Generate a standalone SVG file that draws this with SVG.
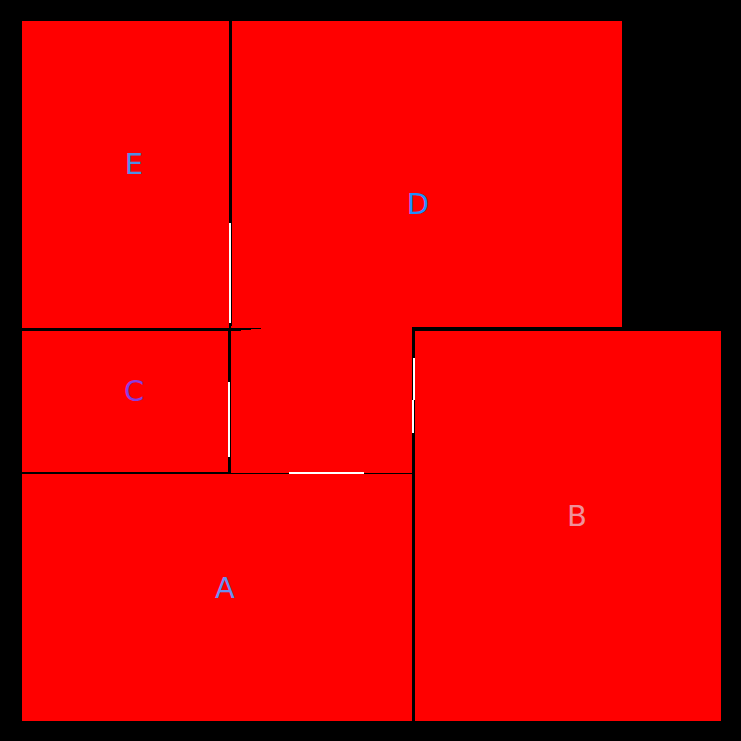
<svg xmlns="http://www.w3.org/2000/svg" width="741" height="741" viewBox="0 0 741 741">
<style>
.box{fill:#ff0000}
.lbl{font-family:"DejaVu Sans",sans-serif;font-size:29px;text-anchor:middle;dominant-baseline:central}
.wl{stroke:#ffffff;stroke-width:2;fill:none}
.bl{stroke:#000000;fill:none}
</style>
<rect x="0" y="0" width="741" height="741" fill="#000000"/>
<g id="middle"><rect class="box" x="231" y="326" width="181" height="147"/></g>
<g id="E"><rect class="box" x="22" y="21" width="207" height="307"/><text class="lbl" x="134" y="164" fill="#4f8fe6">E</text></g>
<g id="D"><rect class="box" x="232" y="21" width="390" height="306"/><text class="lbl" x="418" y="204" fill="#1e90ff">D</text></g>
<g id="C"><rect class="box" x="22" y="331" width="206" height="141"/><text class="lbl" x="134" y="391" fill="#8a3ce0">C</text></g>
<g id="A"><rect class="box" x="22" y="474" width="390" height="247"/><text class="lbl" x="225" y="588" fill="#6a8ff0">A</text></g>
<g id="B"><rect class="box" x="415" y="331" width="306" height="390"/><text class="lbl" x="577" y="516" fill="#f0909a">B</text></g>
<g id="connectors">
<line class="bl" x1="230" y1="329.5" x2="241" y2="329.5" stroke-width="3"/>
<line class="bl" x1="241" y1="329" x2="251" y2="329" stroke-width="2"/>
<line class="bl" x1="251" y1="328.5" x2="261" y2="328.5" stroke-width="1"/>
<line class="wl" x1="230" y1="223" x2="230" y2="323"/>
<line class="wl" x1="229" y1="382" x2="229" y2="457"/>
<line class="wl" x1="289" y1="473" x2="364" y2="473"/>
<line class="wl" x1="414" y1="358" x2="414" y2="400"/>
<line class="wl" x1="413" y1="400" x2="413" y2="433"/>
</g>
</svg>
